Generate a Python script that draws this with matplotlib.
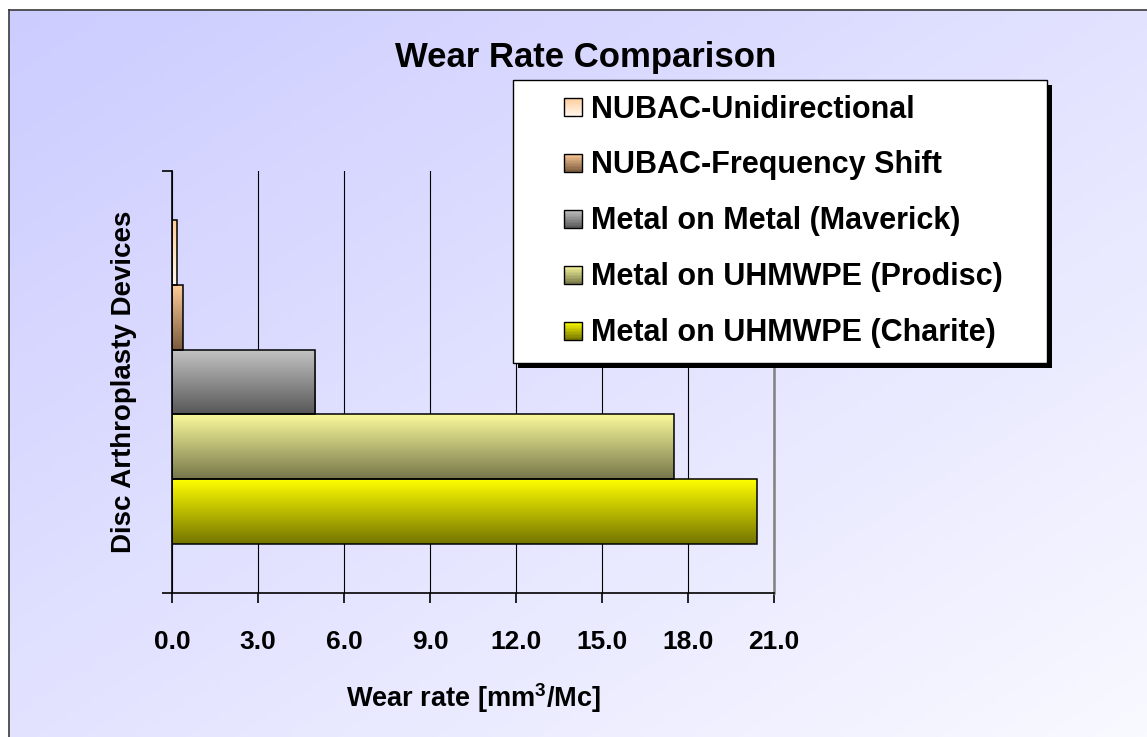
import numpy as np
import matplotlib
matplotlib.use("Agg")
import matplotlib.pyplot as plt
from matplotlib.colors import LinearSegmentedColormap, to_rgb
from matplotlib.patches import Rectangle, Patch
from matplotlib.legend_handler import HandlerBase

plt.rcParams['font.family'] = ['Liberation Sans', 'DejaVu Sans']
plt.rcParams['font.weight'] = 'bold'
plt.rcParams['mathtext.fontset'] = 'custom'
plt.rcParams['mathtext.rm'] = 'Liberation Sans:bold'
plt.rcParams['mathtext.bf'] = 'Liberation Sans:bold'

# data (bottom bar first)
devices = ['Metal on UHMWPE (Charite)', 'Metal on UHMWPE (Prodisc)',
           'Metal on Metal (Maverick)', 'NUBAC-Frequency Shift',
           'NUBAC-Unidirectional']
wear_rate = [20.4, 17.5, 5.0, 0.38, 0.18]
x_ticks = [0, 3, 6, 9, 12, 15, 18, 21]

# gradient colours, top -> bottom of each bar
grad_top = ['#ffff00', '#fafa9c', '#c4c4c4', '#ffcc99', '#ffcc99']
grad_bot = ['#747400', '#76764a', '#575757', '#7a5a3c', '#fff6ee']

W, H = 1147, 737
fig = plt.figure(figsize=(W / 100, H / 100), dpi=100, facecolor='white')

# chart-area background: diagonal lavender -> white gradient
bg = fig.add_axes([9 / W, 0, (W - 9) / W, (H - 10) / H], zorder=-1)
gy, gx = np.mgrid[0:1:200j, 0:1:300j]
t = (gx + (1 - gy)) / 2
c0 = np.array([204, 204, 255]) / 255
c1 = np.array([249, 249, 255]) / 255
img = c0 + (c1 - c0) * t[..., None]
bg.imshow(img, extent=[0, 1, 0, 1], aspect='auto', origin='lower')
bg.set_xlim(0, 1)
bg.set_ylim(0, 1)
bg.set_xticks([])
bg.set_yticks([])
for s in ['right', 'bottom']:
    bg.spines[s].set_visible(False)
for s in ['left', 'top']:
    bg.spines[s].set_color('#3a3a3a')
    bg.spines[s].set_linewidth(1.2)

# plot area
ax = fig.add_axes([172 / W, (H - 593) / H, 602 / W, 422 / H], zorder=1)
ax.set_facecolor('none')

n = len(devices)
gap = 1.5
h = 1 / (n + gap)
y0 = gap / 2 * h
grad = np.linspace(0, 1, 256).reshape(-1, 1)
for i in range(n):
    y = y0 + i * h
    bars = ax.barh(y, wear_rate[i], height=h, align='edge', facecolor='none',
                   edgecolor='black', linewidth=1.1, zorder=3)
    cmap = LinearSegmentedColormap.from_list('g%d' % i, [grad_bot[i], grad_top[i]])
    im = ax.imshow(grad, extent=[0, wear_rate[i], y, y + h], aspect='auto',
                   origin='lower', cmap=cmap, zorder=2)
    im.set_clip_path(bars[0])

ax.set_xlim(0, 21)
ax.set_ylim(0, 1)
ax.set_xticks(x_ticks)
ax.set_xticklabels(['%.1f' % v for v in x_ticks])
ax.set_yticks([0, 1])
ax.set_yticklabels([])
ax.tick_params(direction='out', length=7.5, width=1.2, color='black')
ax.tick_params(axis='x', labelsize=19, pad=19)
ax.set_axisbelow(True)
ax.grid(axis='x', color='black', linewidth=0.8)
ax.spines['top'].set_visible(False)
ax.spines['right'].set_color('#808080')
ax.spines['right'].set_linewidth(1.8)
for s in ['left', 'bottom']:
    ax.spines[s].set_linewidth(1.2)

ax.set_xlabel(r'Wear rate [mm$^{\mathbf{3}}$/Mc]', fontsize=19.5, fontweight='bold')
ax.xaxis.set_label_coords(0.5, -0.21)
ax.set_ylabel('Disc Arthroplasty Devices', fontsize=20, fontweight='bold')
ax.yaxis.set_label_coords(-0.058, 0.5)

fig.text(585.5 / W, (H - 67.3) / H, 'Wear Rate Comparison', ha='center',
         va='baseline', fontsize=25, fontweight='bold')


# legend markers with a vertical gradient
class GradHandler(HandlerBase):
    def __init__(self, top, bot):
        super().__init__()
        self.top = np.array(to_rgb(top))
        self.bot = np.array(to_rgb(bot))

    def legend_artist(self, legend, orig_handle, fontsize, handlebox):
        w, hh = handlebox.width, handlebox.height
        side = 13.0
        x = w - side
        yb = (hh - side) / 2 - handlebox.ydescent
        k = 12
        for j in range(k):
            c = self.bot + (self.top - self.bot) * (j + 0.5) / k
            handlebox.add_artist(Rectangle((x, yb + j * side / k), side, side / k + 0.05,
                                           facecolor=c, edgecolor='none'))
        frame = Rectangle((x, yb), side, side, facecolor='none',
                          edgecolor='black', linewidth=1.0)
        handlebox.add_artist(frame)
        return frame


handles = []
hmap = {}
for i in reversed(range(n)):
    p = Patch(label=devices[i])
    handles.append(p)
    hmap[p] = GradHandler(grad_top[i], grad_bot[i])

leg = fig.legend(handles, [p.get_label() for p in handles], handler_map=hmap,
                 loc='upper left', bbox_to_anchor=(513 / W, (H - 361) / H, 534 / W, 281 / H),
                 bbox_transform=fig.transFigure, mode='expand', borderaxespad=0,
                 borderpad=0.475, labelspacing=0.85, handlelength=1.78, handleheight=0.6,
                 handletextpad=0.3, fontsize=22, fancybox=False, framealpha=1,
                 edgecolor='black', facecolor='white')
leg.set_zorder(5)

# solid drop shadow of the legend box, 5 px right and down
fig.canvas.draw()
bb = leg.get_frame().get_window_extent()
fig.add_artist(Rectangle(((bb.x0 + 5) / W, (bb.y0 - 5) / H), bb.width / W, bb.height / H,
                         facecolor='black', edgecolor='none', zorder=4.9))

fig.savefig('out.png', dpi=100)
